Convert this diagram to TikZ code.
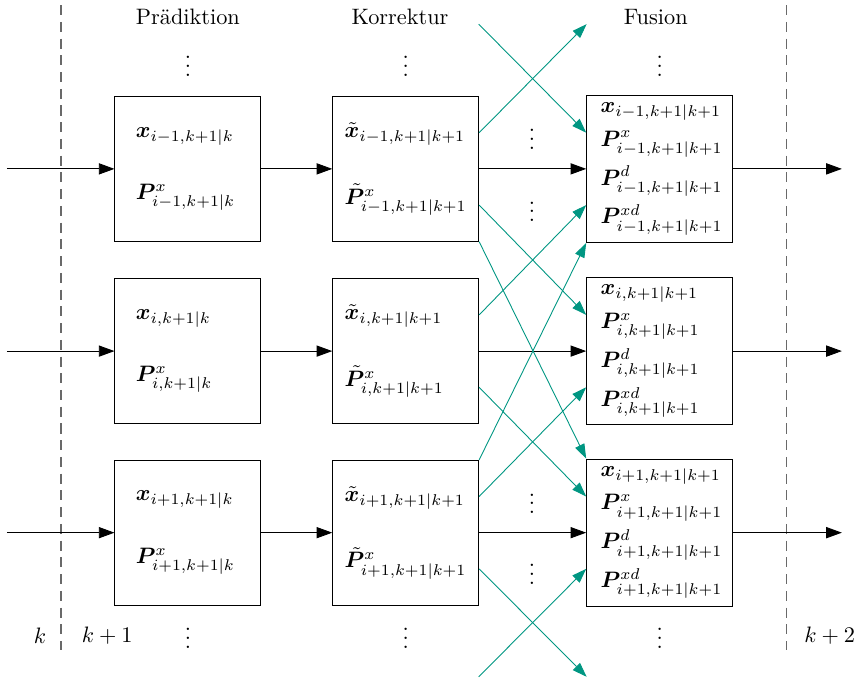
\documentclass[tikz,border=0pt]{standalone}
\usepackage{amsmath,bm}
\usepackage{tikz}
\usetikzlibrary{arrows.meta,calc}
\definecolor{fusecol}{RGB}{0,150,130}
\definecolor{stepcol}{RGB}{105,105,105}

\begin{document}
\begin{tikzpicture}[
  blk/.style={draw, minimum width=2.3cm, minimum height=2.28cm, align=left, inner xsep=0pt},
  flow/.style={-{Triangle[length=7pt,width=5pt]}},
  cross/.style={fusecol, -{Triangle[length=6.5pt,width=4.5pt]}},
  sep/.style={stepcol, line width=0.6pt, dash pattern=on 4.5pt off 3pt}]
  % columns and rows
  \def\xp{2.96}
  \def\xc{6.39}
  \def\xf{10.39}
  \def\ya{-2.66}
  \def\yb{-5.53}
  \def\yc{-8.39}
  \useasboundingbox (0,0) rectangle (13.53,-10.68);

  % time steps
  \draw[sep] (0.96,-0.08) -- (0.96,-10.24);
  \draw[sep] (12.39,-0.08) -- (12.39,-10.24);
  \node (tk) at (0.63,-10.02) {$k$};
  \node (tk1) at (1.69,-10.02) {$k+1$};
  \node (tk2) at (13.07,-10.02) {$k+2$};

  % column labels
  \node (hp) at (\xp,-0.27) {Prädiktion};
  \node (hc) at (6.30,-0.27) {Korrektur};
  \node (hf) at (10.33,-0.27) {Fusion};

  % prediction
  \node[blk, text width=1.64cm] (p1) at (\xp,\ya)
    {$\bm{x}_{i-1,k+1|k}$\\[16pt] $\bm{P}^x_{i-1,k+1|k}$};
  \node[blk, text width=1.64cm] (p2) at (\xp,\yb)
    {$\bm{x}_{i,k+1|k}$\\[16pt] $\bm{P}^x_{i,k+1|k}$};
  \node[blk, text width=1.64cm] (p3) at (\xp,\yc)
    {$\bm{x}_{i+1,k+1|k}$\\[16pt] $\bm{P}^x_{i+1,k+1|k}$};

  % correction
  \node[blk, text width=1.92cm] (c1) at (\xc,\ya)
    {$\tilde{\bm{x}}_{i-1,k+1|k+1}$\\[16pt] $\tilde{\bm{P}}^x_{i-1,k+1|k+1}$};
  \node[blk, text width=1.92cm] (c2) at (\xc,\yb)
    {$\tilde{\bm{x}}_{i,k+1|k+1}$\\[16pt] $\tilde{\bm{P}}^x_{i,k+1|k+1}$};
  \node[blk, text width=1.92cm] (c3) at (\xc,\yc)
    {$\tilde{\bm{x}}_{i+1,k+1|k+1}$\\[16pt] $\tilde{\bm{P}}^x_{i+1,k+1|k+1}$};

  % fusion
  \node[blk, text width=1.86cm] (f1) at (\xf,\ya)
    {$\bm{x}_{i-1,k+1|k+1}$\\[3pt] $\bm{P}^x_{i-1,k+1|k+1}$\\[3pt]
     $\bm{P}^d_{i-1,k+1|k+1}$\\[3pt] $\bm{P}^{xd}_{i-1,k+1|k+1}$};
  \node[blk, text width=1.86cm] (f2) at (\xf,\yb)
    {$\bm{x}_{i,k+1|k+1}$\\[3pt] $\bm{P}^x_{i,k+1|k+1}$\\[3pt]
     $\bm{P}^d_{i,k+1|k+1}$\\[3pt] $\bm{P}^{xd}_{i,k+1|k+1}$};
  \node[blk, text width=1.86cm] (f3) at (\xf,\yc)
    {$\bm{x}_{i+1,k+1|k+1}$\\[3pt] $\bm{P}^x_{i+1,k+1|k+1}$\\[3pt]
     $\bm{P}^d_{i+1,k+1|k+1}$\\[3pt] $\bm{P}^{xd}_{i+1,k+1|k+1}$};

  % dots
  \node (dp0) at (\xp,-0.94) {$\vdots$};
  \node (dc0) at (\xc,-0.94) {$\vdots$};
  \node (df0) at (\xf,-0.94) {$\vdots$};
  \node (dp4) at (\xp,-9.95) {$\vdots$};
  \node (dc4) at (\xc,-9.95) {$\vdots$};
  \node (df4) at (\xf,-9.95) {$\vdots$};
  \node (dm1) at (8.38,-2.09) {$\vdots$};
  \node (dm2) at (8.38,-3.23) {$\vdots$};
  \node (dm3) at (8.38,-7.83) {$\vdots$};
  \node (dm4) at (8.38,-8.94) {$\vdots$};

  % in- and outputs
  \coordinate (in1) at (0.11,\ya);
  \coordinate (in2) at (0.11,\yb);
  \coordinate (in3) at (0.11,\yc);
  \coordinate (out1) at (13.26,\ya);
  \coordinate (out2) at (13.26,\yb);
  \coordinate (out3) at (13.26,\yc);
  \draw[flow] (in1) -- (p1);
  \draw[flow] (in2) -- (p2);
  \draw[flow] (in3) -- (p3);
  \draw[flow] (p1) -- (c1);
  \draw[flow] (p2) -- (c2);
  \draw[flow] (p3) -- (c3);
  \draw[flow] (c1) -- (f1);
  \draw[flow] (c2) -- (f2);
  \draw[flow] (c3) -- (f3);
  \draw[flow] (f1) -- (out1);
  \draw[flow] (f2) -- (out2);
  \draw[flow] (f3) -- (out3);

  % exchange with neighbours
  \coordinate (nin) at (7.54,-0.38);
  \coordinate (nout) at (9.24,-0.38);
  \coordinate (sin) at (7.54,-10.66);
  \coordinate (sout) at (9.24,-10.66);
  \draw[cross] ($(c1.east)+(0,0.57)$) -- (nout);
  \draw[cross] (nin) -- ($(f1.west)+(0,0.57)$);
  \draw[cross] ($(c1.east)-(0,0.57)$) -- ($(f2.west)+(0,0.57)$);
  \draw[cross] ($(c2.east)+(0,0.57)$) -- ($(f1.west)-(0,0.57)$);
  \draw[cross] ($(c2.east)-(0,0.57)$) -- ($(f3.west)+(0,0.57)$);
  \draw[cross] ($(c3.east)+(0,0.57)$) -- ($(f2.west)-(0,0.57)$);
  \draw[cross] ($(c3.east)-(0,0.57)$) -- (sout);
  \draw[cross] (sin) -- ($(f3.west)-(0,0.57)$);
  \draw[cross] (c1.south east) -- (f3.north west);
  \draw[cross] (c3.north east) -- (f1.south west);
\end{tikzpicture}
\end{document}
